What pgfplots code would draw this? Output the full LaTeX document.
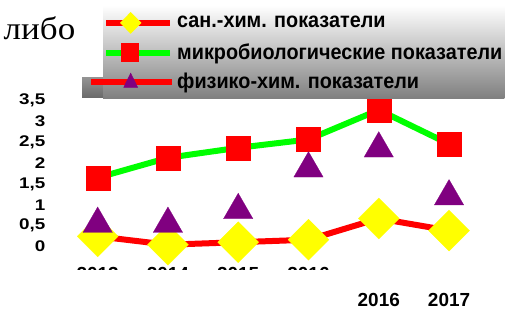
\documentclass[border=0pt]{standalone}
\usepackage{fontspec}
\setmainfont{Liberation Sans}
\newfontfamily\serifcyr[FakeStretch=1.1]{Liberation Serif}
\newfontfamily\legfont[FakeStretch=0.925]{Liberation Sans Bold}
\newfontfamily\tickfont[FakeStretch=1.22]{Liberation Sans Bold}
\usepackage{pgfplots}
\pgfplotsset{compat=1.18}
\definecolor{cred}{HTML}{FF0000}
\definecolor{cgreen}{HTML}{00FF00}
\definecolor{cyellow}{HTML}{FFFF00}
\definecolor{cpurple}{HTML}{800080}
\begin{document}
\begin{tikzpicture}[x=1bp,y=1bp]
\path[use as bounding box] (0,0) rectangle (514,-309);
\node[anchor=base west, inner sep=0pt] at (3.5,-39.3) {\serifcyr\fontsize{32}{32}\selectfont либо};
\shade[top color=black!42, bottom color=black!58] (82,-77) rectangle (503,-97);
\begin{axis}[
  at={(55.5bp,-263bp)}, anchor=south west,
  scale only axis, width=435.7bp, height=166.4bp,
  xmin=-0.6, xmax=5.6, ymin=-0.4, ymax=3.6,
  axis line style={draw=none},
  major tick length=0pt,
  clip=false,
  xtick={0,1,2,3}, xticklabels={2013,2014,2015,2016},
  extra x ticks={4,5}, extra x tick labels={2016,2017},
  extra x tick style={xticklabel style={yshift=-26bp}},
  xticklabel style={font=\bfseries\fontsize{19}{19}\selectfont, anchor=north, inner sep=0pt, yshift=-4bp},
  ytick={0,0.5,1,1.5,2,2.5,3,3.5},
  yticklabel style={font=\tickfont\fontsize{15.5}{15.5}\selectfont, anchor=east, inner sep=0pt, xshift=-10bp, /pgf/number format/use comma},
  /pgf/number format/assume math mode=true,
  legend cell align=left,
  legend style={at={(0.109,1.55)}, anchor=north west, draw=none,
    top color=white, bottom color=black!50, inner xsep=0pt, inner ysep=8bp,
    font=\legfont\fontsize{21.5}{26}\selectfont, row sep=11bp,
    nodes={inner ysep=0bp, inner xsep=2bp}},
]
\addplot[cred, line width=6bp, mark=square*, mark size=14.5bp, mark options={rotate=45, fill=cyellow, draw=cyellow, line width=0.2bp},
  legend image code/.code={\draw[cred, line width=6bp] (0bp,0bp) -- (64bp,0bp);
    \fill[cyellow] (24.5bp,6.6bp) -- (31bp,0bp) -- (24.5bp,-6.6bp) -- (18bp,0bp) -- cycle;}]
  coordinates {(0,0.24)(1,0.04)(2,0.10)(3,0.16)(4,0.67)(5,0.38)};
\addlegendentry{сан.-хим. показатели}
\addplot[cgreen, line width=6bp, mark=square*, mark size=12bp, mark options={fill=cred, draw=cred, line width=0.2bp},
  legend image code/.code={\draw[cgreen, line width=6bp] (0bp,0bp) -- (64bp,0bp);
    \fill[cred] (17.5bp,6.2bp) rectangle (29.8bp,-6.2bp);}]
  coordinates {(0,1.65)(1,2.13)(2,2.37)(3,2.57)(4,3.28)(5,2.46)};
\addlegendentry{микробиологические показатели}
\addplot[only marks, mark=triangle*, mark size=17bp, mark options={fill=cpurple, draw=cpurple, line width=0.2bp},
  legend image code/.code={\draw[cred, line width=6bp, overlay] (-15bp,0bp) -- (0bp,0bp);
    \draw[cred, line width=6bp] (0bp,0bp) -- (66bp,0bp);
    \fill[cpurple] (24.5bp,8.5bp) -- (31.5bp,-5.8bp) -- (17.5bp,-5.8bp) -- cycle;}]
  coordinates {(0,0.54)(1,0.54)(2,0.87)(3,1.87)(4,2.35)(5,1.20)};
\addlegendentry{физико-хим. показатели}
\end{axis}
\fill[white] (0,-269.5) rectangle (514,-290);
\end{tikzpicture}
\end{document}
